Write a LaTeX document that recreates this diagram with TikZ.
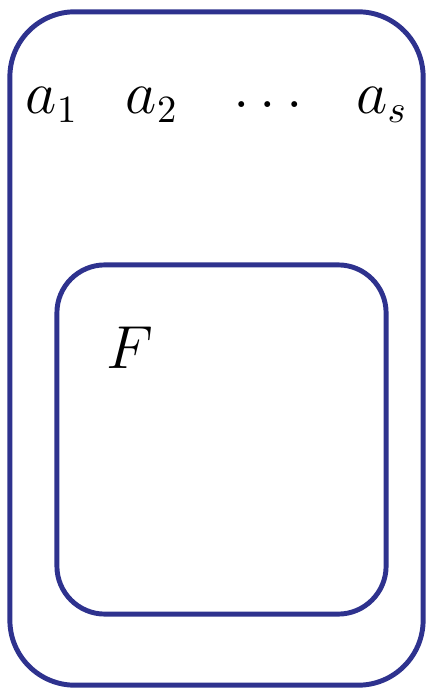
\documentclass[tikz,border=0pt]{standalone}
\usepackage{tikz}
\usetikzlibrary{positioning}
\definecolor{setblue}{RGB}{46,50,142}

\begin{document}
\begin{tikzpicture}[
    x=0.01cm, y=-0.01cm,
    setbox/.style={rectangle, draw=setblue, line width=1.4pt, rounded corners=#1, inner sep=0pt},
    elem/.style={inner sep=0pt, font=\fontsize{16}{18}\selectfont},
    label/.style={inner sep=0pt, font=\fontsize{18}{20}\selectfont}
]
    \useasboundingbox (0,0) rectangle (429,689);

    % outer set and inner set
    \node[setbox=0.65cm, minimum width=4.13cm, minimum height=6.73cm] (outer) at (216.5,348.5) {};
    \node[setbox=0.48cm, minimum width=3.29cm, minimum height=3.49cm] (inner) at (221.5,439.5) {};

    % elements
    \node[elem] (a1) at (52,105) {$a_1$};
    \node[elem] (a2) at (152,105) {$a_2$};
    \node[elem] (dots) at (268,105) {$\dots$};
    \node[elem] (as) at (382,105) {$a_s$};

    \node[label] (F) at (130,348) {$F$};
\end{tikzpicture}
\end{document}
